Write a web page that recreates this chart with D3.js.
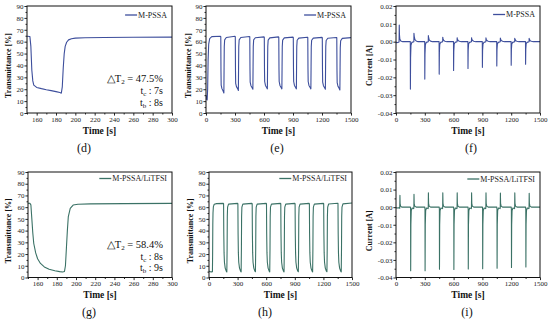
<!DOCTYPE html>
<html>
<head>
<meta charset="utf-8">
<script src="https://cdn.jsdelivr.net/npm/d3@7"></script>
<style>
  body { margin: 0; background: #fff; }
  svg { display: block; font-family: "Liberation Serif", "Times New Roman", serif; }
</style>
</head>
<body>
<div id="chart"></div>
<script>
// ---- data ----
// (d) M-PSSA, one cycle, time [s] vs transmittance [%]
const pssaZoom = [
  [150,64.5],[153,64.3],[154,56],[155,36],[156,27],[157,23.5],[160,21.5],[165,20.5],[170,19.6],
  [175,18.8],[180,18],[184,17.2],[185.5,16.7],[186.5,22],[187.5,38],[188.5,50],[189.5,56],
  [191,59.5],[193,61.5],[196,62.5],[200,63],[210,63.3],[230,63.5],[260,63.7],[300,63.8]
];
// (e) M-PSSA, 10 cycles
const pssaCycles = [
  [0,15],[6,11.5],[12,11],[17,20],[22,45],[28,58],[38,62.5],[60,64.2],[150,64.5],
  [153,64.3],[155,35],[157,23.5],[165,20.5],[177,18.5],[185,16.8],[187,38],[189,56],[193,61.5],[210,63.5],[300,64.5],
  [303,64.3],[305,36],[307,25],[315,22.2],[327,20.5],[335,19],[337,39],[339,56],[343,61.5],[360,63.5],[450,64.3],
  [453,64.1],[455,37],[457,26],[465,23],[477,21.3],[485,20],[487,39],[489,56],[493,61.5],[510,63.3],[600,64],
  [603,63.8],[605,37],[607,26.5],[615,23.2],[627,21.5],[635,20.3],[637,39],[639,56],[643,61.3],[660,63.2],[750,64],
  [753,63.8],[755,37],[757,26.5],[765,23.2],[777,21.5],[785,20.3],[787,39],[789,56],[793,61.3],[810,63.2],[900,63.8],
  [903,63.6],[905,37],[907,26.5],[915,23.2],[927,21.5],[935,20.3],[937,39],[939,56],[943,61.2],[960,63],[1050,63.7],
  [1053,63.5],[1055,37],[1057,26.5],[1065,23.2],[1077,21.5],[1085,20.3],[1087,39],[1089,56],[1093,61.2],[1110,63],[1200,63.6],
  [1203,63.4],[1205,36.5],[1207,26],[1215,23],[1227,21.2],[1235,20],[1237,39],[1239,56],[1243,61],[1260,62.9],[1350,63.5],
  [1353,63.3],[1355,36],[1357,25.5],[1365,22.5],[1377,20.8],[1385,19.3],[1387,38],[1389,55],[1393,60.8],[1410,62.8],[1500,63.4]
];
// (f) M-PSSA current [A]
const pssaCurrent = [
  [0,0],[3,-0.0006],[20,-0.0004],[32,-0.0002],[34,0.0093],[36,0.004],[40,0.0015],[50,0.0004],[70,0],
  [149,0],[150,-0.0266],[152,-0.009],[156,-0.002],[165,-0.0004],[186,0],[187,0.0047],[190,0.003],[197,0.0012],[210,0.0004],[230,0],
  [299,0],[300,-0.021],[302,-0.007],[306,-0.0018],[315,-0.0004],[336,0],[337,0.0034],[340,0.0022],[347,0.0009],[360,0.0003],[380,0],
  [449,0],[450,-0.0182],[452,-0.006],[456,-0.0016],[465,-0.0004],[486,0],[487,0.0025],[490,0.0017],[497,0.0007],[510,0.0002],[530,0],
  [599,0],[600,-0.0162],[602,-0.0055],[606,-0.0015],[615,-0.0004],[636,0],[637,0.0022],[640,0.0015],[647,0.0006],[660,0.0002],[680,0],
  [749,0],[750,-0.015],[752,-0.005],[756,-0.0014],[765,-0.0004],[786,0],[787,0.0022],[790,0.0015],[797,0.0006],[810,0.0002],[830,0],
  [899,0],[900,-0.0144],[902,-0.005],[906,-0.0014],[915,-0.0004],[936,0],[937,0.0021],[940,0.0014],[947,0.0006],[960,0.0002],[980,0],
  [1049,0],[1050,-0.0136],[1052,-0.0046],[1056,-0.0013],[1065,-0.0004],[1086,0],[1087,0.002],[1090,0.0014],[1097,0.0006],[1110,0.0002],[1130,0],
  [1199,0],[1200,-0.0132],[1202,-0.0045],[1206,-0.0013],[1215,-0.0004],[1236,0],[1237,0.0019],[1240,0.0013],[1247,0.0005],[1260,0.0002],[1280,0],
  [1349,0],[1350,-0.0127],[1352,-0.0043],[1356,-0.0012],[1365,-0.0004],[1386,0],[1387,0.0019],[1390,0.0013],[1397,0.0005],[1410,0.0002],[1430,0],
  [1500,0]
];
// (g) M-PSSA/LiTFSI, one cycle
const liZoom = [
  [150,63.3],[152,63.2],[153,62],[154,50],[155,38],[156,29],[158,21],[160,16],[163,12],[167,9],
  [172,7],[178,5.8],[183,5],[186,4.7],[188,5.2],[189,10],[190,25],[191,40],[192,52],[194,59],
  [197,61.8],[202,62.5],[215,62.8],[250,63],[300,63.2]
];
// (h) M-PSSA/LiTFSI, 10 cycles
const liCycles = [
  [0,5.6],[10,4.9],[25,4.8],[36,4.9],[38,20],[40,45],[42,55],[46,60.5],[55,62.5],[80,63],[150,63.2],
  [153,63],[155,38],[158,21],[162,13],[170,8],[180,5.6],[187,4.7],[190,25],[192,52],[195,60],[205,62.6],[300,63.2],
  [303,63],[305,38],[308,21],[312,13],[320,8],[330,5.6],[337,4.8],[340,25],[342,52],[345,60],[355,62.6],[450,63.2],
  [453,63],[455,38],[458,21],[462,13],[470,8],[480,5.7],[487,4.9],[490,25],[492,52],[495,60],[505,62.6],[600,63.2],
  [603,63],[605,38],[608,21],[612,13],[620,8],[630,5.6],[637,4.8],[640,25],[642,52],[645,60],[655,62.6],[750,63.2],
  [753,63],[755,38],[758,21],[762,13],[770,8],[780,5.6],[787,4.8],[790,25],[792,52],[795,60],[805,62.6],[900,63.2],
  [903,63],[905,38],[908,21],[912,13],[920,8],[930,5.7],[937,4.9],[940,25],[942,52],[945,60],[955,62.6],[1050,63.2],
  [1053,63],[1055,38],[1058,21],[1062,13],[1070,8],[1080,5.6],[1087,4.8],[1090,25],[1092,52],[1095,60],[1105,62.6],[1200,63.2],
  [1203,63],[1205,38],[1208,21],[1212,13],[1220,8],[1230,5.7],[1237,4.9],[1240,25],[1242,52],[1245,60],[1255,62.7],[1350,63.3],
  [1353,63.1],[1355,38],[1358,21],[1362,13],[1370,8],[1380,5.6],[1387,4.8],[1390,25],[1392,52],[1395,60],[1405,62.8],[1500,63.5]
];
// (i) M-PSSA/LiTFSI current [A]
const liCurrent = [
  [0,0],[4,-0.0005],[30,-0.0004],[39,-0.0006],[41,0.0067],[43,0.002],[48,0.0006],[60,0],
  [150,0],[152,-0.0012],[153,-0.0361],[155,-0.01],[159,-0.002],[168,-0.0005],[183,-0.0008],[186,-0.0006],[187.5,0.0073],[189.5,0.002],[195,0.0006],[210,0],
  [300,0],[302,-0.0012],[303,-0.0361],[305,-0.01],[309,-0.002],[318,-0.0005],[333,-0.0008],[336,-0.0006],[337.5,0.0082],[339.5,0.0022],[345,0.0006],[360,0],
  [450,0],[452,-0.0012],[453,-0.0353],[455,-0.01],[459,-0.002],[468,-0.0005],[483,-0.0008],[486,-0.0006],[487.5,0.0082],[489.5,0.0022],[495,0.0006],[510,0],
  [600,0],[602,-0.0012],[603,-0.0354],[605,-0.01],[609,-0.002],[618,-0.0005],[633,-0.0008],[636,-0.0006],[637.5,0.0082],[639.5,0.0022],[645,0.0006],[660,0],
  [750,0],[752,-0.0012],[753,-0.0352],[755,-0.01],[759,-0.002],[768,-0.0005],[783,-0.0008],[786,-0.0006],[787.5,0.0082],[789.5,0.0022],[795,0.0006],[810,0],
  [900,0],[902,-0.0012],[903,-0.035],[905,-0.01],[909,-0.002],[918,-0.0005],[933,-0.0008],[936,-0.0006],[937.5,0.0081],[939.5,0.0022],[945,0.0006],[960,0],
  [1050,0],[1052,-0.0012],[1053,-0.0347],[1055,-0.01],[1059,-0.002],[1068,-0.0005],[1083,-0.0008],[1086,-0.0006],[1087.5,0.008],[1089.5,0.0022],[1095,0.0006],[1110,0],
  [1200,0],[1202,-0.0012],[1203,-0.0343],[1205,-0.01],[1209,-0.002],[1218,-0.0005],[1233,-0.0008],[1236,-0.0006],[1237.5,0.0081],[1239.5,0.0022],[1245,0.0006],[1260,0],
  [1350,0],[1352,-0.0012],[1353,-0.034],[1355,-0.01],[1359,-0.002],[1368,-0.0005],[1383,-0.0008],[1386,-0.0006],[1387.5,0.0079],[1389.5,0.0022],[1395,0.0006],[1410,0],
  [1500,0]
];

// ticks
const transTicks = [0,10,20,30,40,50,60,70,80,90];
const transMinor = [5,15,25,35,45,55,65,75,85];
const currentTicks = [-0.04,-0.03,-0.02,-0.01,0,0.01,0.02];
const currentMinor = [-0.035,-0.025,-0.015,-0.005,0.005,0.015];
const zoomTimeTicks = [160,180,200,220,240,260,280,300];
const zoomTimeMinor = [150,170,190,210,230,250,270,290];
const cycleTimeTicks = [0,300,600,900,1200,1500];
const cycleTimeMinor = [150,450,750,1050,1350];

// text
const legendNames = ["M-PSSA", "M-PSSA/LiTFSI"];
const panelLabels = ["(d)", "(e)", "(f)", "(g)", "(h)", "(i)"];
const notePssa = ["47.5%", "7s", "8s"];   // ΔT2, tc, tb
const noteLi = ["58.4%", "8s", "9s"];

const blue = "#3d4e9c", teal = "#3b7266";

const svg = d3.select("#chart")
    .append("svg")
    .attr("width", 550)
    .attr("height", 321);

const fmtInt = d3.format("d");
const fmtCur = v => d3.format(".2f")(v).replace("\u2212", "-");

const panels = [
  {left: 27, right: 172, top: 6, bottom: 113, xDomain: [150, 300], xTicks: zoomTimeTicks, xMinor: zoomTimeMinor,
   yDomain: [0, 90], yTicks: transTicks, yMinor: transMinor, yFmt: fmtInt, yTitle: "Transmittance [%]", yTitleOff: 16,
   data: pssaZoom, color: blue, legend: legendNames[0], legendDy: 9, label: panelLabels[0], labelX: 84, note: notePssa, noteY: 82},
  {left: 206, right: 351, top: 6, bottom: 113, xDomain: [0, 1500], xTicks: cycleTimeTicks, xMinor: cycleTimeMinor,
   yDomain: [0, 90], yTicks: transTicks, yMinor: transMinor, yFmt: fmtInt, yTitle: "Transmittance [%]", yTitleOff: 15.5,
   data: pssaCycles, color: blue, legend: legendNames[0], legendDy: 9, label: panelLabels[1], labelX: 277},
  {left: 396, right: 540, top: 6, bottom: 113, xDomain: [0, 1500], xTicks: cycleTimeTicks, xMinor: cycleTimeMinor,
   yDomain: [-0.04, 0.02], yTicks: currentTicks, yMinor: currentMinor, yFmt: fmtCur, yTitle: "Current [A]", yTitleOff: 24.5,
   data: pssaCurrent, color: blue, legend: legendNames[0], legendDy: 8.5, label: panelLabels[2], labelX: 471},
  {left: 28, right: 172, top: 172, bottom: 277.5, xDomain: [150, 300], xTicks: zoomTimeTicks, xMinor: zoomTimeMinor,
   yDomain: [0, 90], yTicks: transTicks, yMinor: transMinor, yFmt: fmtInt, yTitle: "Transmittance [%]", yTitleOff: 17,
   data: liZoom, color: teal, legend: legendNames[1], legendDy: 6.5, label: panelLabels[3], labelX: 89, note: noteLi, noteY: 247.5},
  {left: 209, right: 352, top: 172, bottom: 277.5, xDomain: [0, 1500], xTicks: cycleTimeTicks, xMinor: cycleTimeMinor,
   yDomain: [0, 90], yTicks: transTicks, yMinor: transMinor, yFmt: fmtInt, yTitle: "Transmittance [%]", yTitleOff: 16.5,
   data: liCycles, color: teal, legend: legendNames[1], legendDy: 6.5, label: panelLabels[4], labelX: 265},
  {left: 396, right: 540, top: 172, bottom: 277.5, xDomain: [0, 1500], xTicks: cycleTimeTicks, xMinor: cycleTimeMinor,
   yDomain: [-0.04, 0.02], yTicks: currentTicks, yMinor: currentMinor, yFmt: fmtCur, yTitle: "Current [A]", yTitleOff: 24,
   data: liCurrent, color: teal, legend: legendNames[1], legendDy: 7, label: panelLabels[5], labelX: 467}
];

panels.forEach((p, i) => {
    const x = d3.scaleLinear().domain(p.xDomain).range([p.left, p.right]);
    const y = d3.scaleLinear().domain(p.yDomain).range([p.bottom, p.top]);
    const g = svg.append("g");

    svg.append("clipPath").attr("id", "clip" + i)
        .append("rect")
        .attr("x", p.left).attr("y", p.top)
        .attr("width", p.right - p.left).attr("height", p.bottom - p.top);

    // x axis
    const xa = g.append("g")
        .attr("transform", `translate(0,${p.bottom})`)
        .call(d3.axisBottom(x).tickValues(p.xTicks).tickSize(2.6).tickPadding(1.2).tickFormat(fmtInt));
    g.append("g")
        .attr("transform", `translate(0,${p.bottom})`)
        .call(d3.axisBottom(x).tickValues(p.xMinor).tickSize(1.5).tickFormat(""));

    // y axis
    const ya = g.append("g")
        .attr("transform", `translate(${p.left},0)`)
        .call(d3.axisLeft(y).tickValues(p.yTicks).tickSize(2.6).tickPadding(1).tickFormat(p.yFmt));
    g.append("g")
        .attr("transform", `translate(${p.left},0)`)
        .call(d3.axisLeft(y).tickValues(p.yMinor).tickSize(1.5).tickFormat(""));

    g.selectAll(".domain").remove();
    g.selectAll(".tick line").attr("stroke", "#111").attr("stroke-width", 0.9);
    g.selectAll(".tick text")
        .style("font-family", "Liberation Serif, serif")
        .style("font-size", "7px")
        .attr("fill", "#222");

    // data line
    const line = d3.line().x(d => x(d[0])).y(d => y(d[1]));
    g.append("path")
        .datum(p.data)
        .attr("clip-path", `url(#clip${i})`)
        .attr("fill", "none")
        .attr("stroke", p.color)
        .attr("stroke-width", 1.1)
        .attr("stroke-linejoin", "round")
        .attr("d", line);

    // frame
    g.append("rect")
        .attr("x", p.left).attr("y", p.top)
        .attr("width", p.right - p.left).attr("height", p.bottom - p.top)
        .attr("fill", "none")
        .attr("stroke", "#111")
        .attr("stroke-width", 1);

    // legend
    const lt = g.append("text")
        .attr("x", p.right - 5)
        .attr("y", p.top + p.legendDy + 2.6)
        .attr("text-anchor", "end")
        .style("font-size", "8px")
        .attr("fill", "#222")
        .text(p.legend);
    const tw = lt.node().getComputedTextLength();
    g.append("line")
        .attr("x1", p.right - 5 - tw - 13).attr("x2", p.right - 5 - tw - 1)
        .attr("y1", p.top + p.legendDy).attr("y2", p.top + p.legendDy)
        .attr("stroke", p.color)
        .attr("stroke-width", 1.3);

    // axis titles
    g.append("text")
        .attr("x", (p.left + p.right) / 2)
        .attr("y", p.bottom + 20.5)
        .attr("text-anchor", "middle")
        .style("font-size", "9.5px")
        .style("font-weight", "bold")
        .attr("fill", "#111")
        .text("Time [s]");

    g.append("text")
        .attr("transform", `translate(${p.left - p.yTitleOff},${(p.top + p.bottom) / 2 + 6}) rotate(-90)`)
        .attr("text-anchor", "middle")
        .style("font-size", "8px")
        .style("font-weight", "bold")
        .attr("fill", "#111")
        .text(p.yTitle);

    // panel label
    g.append("text")
        .attr("x", p.labelX)
        .attr("y", p.bottom + 38.8)
        .attr("text-anchor", "middle")
        .style("font-size", "12px")
        .attr("fill", "#111")
        .text(p.label);

    // annotation
    if (p.note) {
        const nx = p.right - 9;
        const t1 = g.append("text").attr("x", nx).attr("y", p.noteY)
            .attr("text-anchor", "end").style("font-size", "10.5px").attr("fill", "#111");
        t1.append("tspan").text("\u25B3T");
        t1.append("tspan").attr("dy", 2).style("font-size", "7px").text("2");
        t1.append("tspan").attr("dy", -2).text(" = " + p.note[0]);

        [["c", p.note[1]], ["b", p.note[2]]].forEach(([sub, val], k) => {
            const t = g.append("text").attr("x", nx).attr("y", p.noteY + 12 + k * 11.5)
                .attr("text-anchor", "end").style("font-size", "10px").attr("fill", "#111");
            t.append("tspan").text("t");
            t.append("tspan").attr("dy", 2).style("font-size", "7px").text(sub);
            t.append("tspan").attr("dy", -2).text(" : " + val);
        });
    }
});
</script>
</body>
</html>
